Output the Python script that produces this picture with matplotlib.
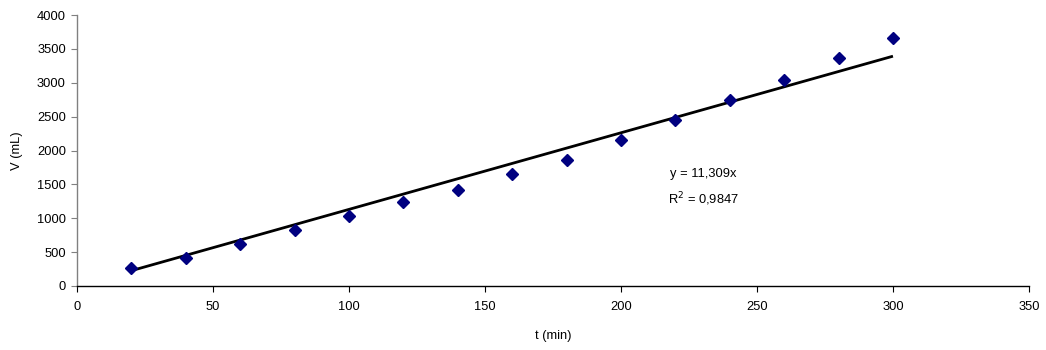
import matplotlib
matplotlib.use("Agg")
import matplotlib.pyplot as plt
import numpy as np

plt.rcParams['font.family'] = ['Liberation Sans', 'DejaVu Sans']

# Measured volume over time
t_min = [20, 40, 60, 80, 100, 120, 140, 160, 180, 200, 220, 240, 260, 280, 300]
v_ml = [270, 418, 615, 827, 1033, 1244, 1421, 1653, 1860, 2155, 2450, 2745, 3040, 3360, 3656]

# Linear fit through the origin
slope = 11.309
r2 = 0.9847

FS = 9.3

fig = plt.figure(figsize=(10.46, 3.5), dpi=100)
ax = fig.add_axes([0.0736, 0.1829, 0.9101, 0.7741])

fit_x = np.array([t_min[0], t_min[-1]])
ax.plot(fit_x, slope * fit_x, color='black', lw=2.0, zorder=2, solid_capstyle='butt')
ax.plot(t_min, v_ml, linestyle='none', marker='D', markersize=6.5,
        color='#000080', zorder=3)

ax.set_xlim(0, 350)
ax.set_ylim(0, 4000)
ax.set_xticks(np.arange(0, 351, 50))
ax.set_yticks(np.arange(0, 4001, 500))

for side in ('top', 'right'):
    ax.spines[side].set_visible(False)
ax.spines['left'].set_color('#808080')
ax.spines['bottom'].set_color('black')
ax.spines['left'].set_linewidth(1.0)
ax.spines['bottom'].set_linewidth(1.0)
ax.tick_params(axis='both', direction='out', length=4, labelsize=FS, colors='black')
ax.tick_params(axis='y', color='#808080', pad=4)
ax.tick_params(axis='x', pad=7)

ax.set_xlabel('t (min)', fontsize=FS, labelpad=12)
ax.set_ylabel('V (mL)', fontsize=FS, labelpad=10)

fig.text(670 / 1046, 1 - 174 / 350, f'y = {slope:.3f}x'.replace('.', ','),
         fontsize=FS, ha='left', va='center')
fig.text(668 / 1046, 1 - 199 / 350, f'R$^2$ = {r2:.4f}'.replace('.', ','),
         fontsize=FS, ha='left', va='center')

fig.savefig('out.png', dpi=100)
